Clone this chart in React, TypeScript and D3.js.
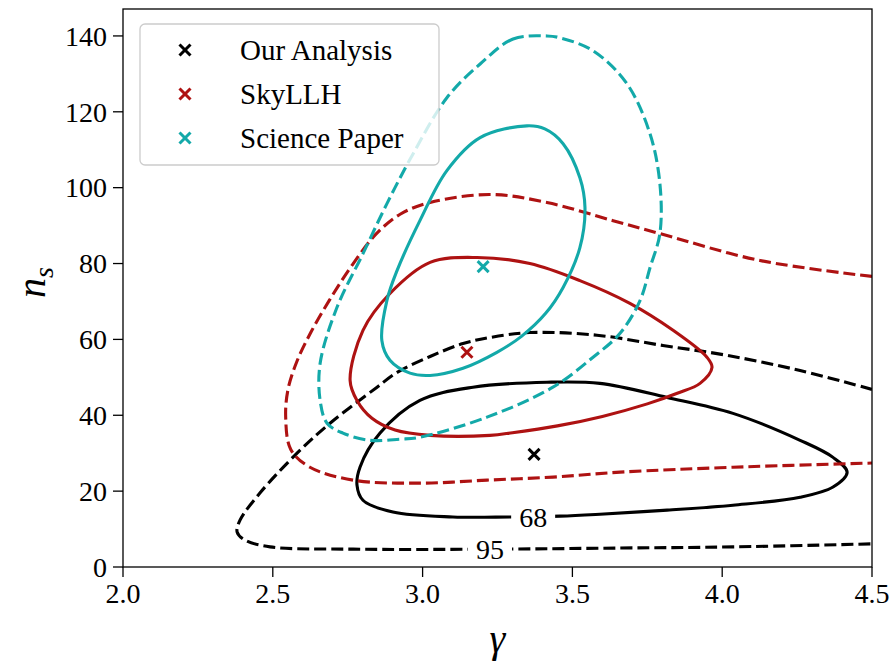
import * as d3 from "d3";

// gamma / n_s ticks
const xTicks = [2.0, 2.5, 3.0, 3.5, 4.0, 4.5];
const yTicks = [0, 20, 40, 60, 80, 100, 120, 140];

// contour outlines [gamma, n_s]
const ours68: [number, number][] = [
  [2.781, 21.6], [2.791, 26.3], [2.858, 35.3], [2.991, 43.9], [3.168, 47.4], [3.415, 48.7],
  [3.592, 48.4], [3.816, 44.7], [4.036, 40.5], [4.26, 33.4], [4.37, 28.9], [4.417, 25.0],
  [4.37, 21.1], [4.26, 18.4], [4.036, 16.3], [3.816, 15.0], [3.592, 13.9], [3.459, 13.4],
  [3.292, 13.2], [3.101, 13.2], [2.901, 14.5], [2.801, 17.6],
];
const ours95: [number, number][] = [
  [4.5, 46.8], [4.26, 51.8], [4.016, 55.8], [3.802, 58.4], [3.582, 61.1], [3.358, 61.8],
  [3.225, 60.5], [3.135, 58.9], [3.025, 55.5], [2.915, 51.3], [2.848, 47.4], [2.691, 37.9],
  [2.581, 30.0], [2.457, 19.5], [2.391, 12.4], [2.381, 9.2], [2.407, 7.1], [2.491, 5.3],
  [2.768, 4.7], [3.225, 4.7], [3.659, 5.0], [4.036, 5.3], [4.5, 6.1],
];
const skyllh68: [number, number][] = [
  [2.758, 49.2], [2.781, 43.9], [2.831, 39.2], [2.908, 36.1], [3.025, 34.7], [3.225, 34.7],
  [3.3, 35.4], [3.45, 37.2], [3.6, 39.7], [3.75, 43.0], [3.85, 45.8], [3.926, 48.4],
  [3.966, 52.6], [3.949, 55.3], [3.836, 62.4], [3.692, 69.5], [3.525, 75.5], [3.358, 80.0],
  [3.182, 81.6], [3.025, 80.3], [2.891, 72.1], [2.801, 62.4],
];
const skyllh95: [number, number][] = [
  [4.5, 76.6], [4.126, 80.8], [3.792, 87.9], [3.636, 91.3], [3.415, 96.1], [3.225, 98.2],
  [3.025, 96.1], [2.925, 93.0], [2.845, 87.8], [2.765, 79.6], [2.691, 70.6], [2.628, 62.0],
  [2.581, 54.3], [2.551, 46.9], [2.543, 39.5], [2.56, 31.0], [2.624, 26.3], [2.768, 22.9],
  [2.991, 22.1], [3.215, 22.9], [3.435, 23.7], [3.659, 25.0], [4.036, 26.3], [4.5, 27.4],
];
const paper68: [number, number][] = [
  [3.348, 116.3], [3.192, 113.2], [3.081, 104.5], [2.991, 91.3], [2.915, 78.2], [2.881, 70.3],
  [2.864, 59.7], [2.891, 54.5], [2.958, 51.1], [3.025, 50.5], [3.135, 52.4], [3.248, 56.6],
  [3.33, 60.8], [3.41, 66.8], [3.469, 73.7], [3.525, 84.2], [3.542, 94.7], [3.525, 102.6],
  [3.469, 111.6], [3.408, 115.5],
];
const paper95: [number, number][] = [
  [3.415, 140.0], [3.302, 139.2], [3.192, 132.6], [3.081, 123.7], [2.968, 108.9], [2.881, 95.8],
  [2.801, 82.6], [2.714, 68.4], [2.658, 53.7], [2.658, 43.9], [2.681, 37.9], [2.734, 35.3],
  [2.824, 33.4], [2.925, 33.7], [2.991, 34.2], [3.215, 39.5], [3.435, 47.4], [3.569, 55.3],
  [3.659, 61.6], [3.726, 70.3], [3.759, 78.9], [3.792, 87.9], [3.792, 101.1], [3.759, 114.2],
  [3.682, 127.4], [3.569, 136.1], [3.459, 139.5],
];

// best fit points
const bestFits = [
  { name: "Our Analysis", gamma: 3.372, ns: 29.7, color: "#000000" },
  { name: "SkyLLH", gamma: 3.148, ns: 56.6, color: "#ae1212" },
  { name: "Science Paper", gamma: 3.202, ns: 79.2, color: "#13a9a9" },
];

// contour level labels
const levelLabels = [
  { text: "68", gamma: 3.369, ns: 13.2 },
  { text: "95", gamma: 3.225, ns: 4.7 },
];

const W = 893;
const H = 668;
const margin = { top: 9, right: 21, bottom: 101, left: 123 };
const font = '"Liberation Serif", "DejaVu Serif", serif';

export default function App() {
  const x = d3.scaleLinear().domain([2.0, 4.5]).range([margin.left, W - margin.right]);
  const y = d3.scaleLinear().domain([0, 147.1]).range([H - margin.bottom, margin.top]);

  const closed = d3.line<[number, number]>()
    .x(d => x(d[0])).y(d => y(d[1]))
    .curve(d3.curveCatmullRomClosed.alpha(0.5));
  const open = d3.line<[number, number]>()
    .x(d => x(d[0])).y(d => y(d[1]))
    .curve(d3.curveCatmullRom.alpha(0.5));

  const dash = "12 5";
  const contours = [
    { d: closed(ours68), color: bestFits[0].color, dash: undefined },
    { d: open(ours95), color: bestFits[0].color, dash },
    { d: closed(skyllh68), color: bestFits[1].color, dash: undefined },
    { d: open(skyllh95), color: bestFits[1].color, dash },
    { d: closed(paper68), color: bestFits[2].color, dash: undefined },
    { d: closed(paper95), color: bestFits[2].color, dash },
  ];

  const cross = (cx: number, cy: number, s: number, color: string, key: string) => (
    <g key={key} stroke={color} strokeWidth={3}>
      <line x1={cx - s} y1={cy - s} x2={cx + s} y2={cy + s} />
      <line x1={cx - s} y1={cy + s} x2={cx + s} y2={cy - s} />
    </g>
  );

  return (
    <svg width={W} height={H} style={{ position: "absolute", left: 0, top: 0, background: "#fff", fontFamily: font }}>
      <defs>
        <clipPath id="plot-clip">
          <rect x={margin.left} y={margin.top} width={W - margin.left - margin.right}
            height={H - margin.top - margin.bottom} />
        </clipPath>
      </defs>

      <g clipPath="url(#plot-clip)">
        {contours.map((c, i) => (
          <path key={i} d={c.d ?? ""} fill="none" stroke={c.color} strokeWidth={3.1}
            strokeDasharray={c.dash} />
        ))}
        {levelLabels.map(l => (
          <g key={l.text}>
            <rect x={x(l.gamma) - 22} y={y(l.ns) - 10} width={44} height={20} fill="#fff" />
            <text x={x(l.gamma)} y={y(l.ns)} dy="0.35em" textAnchor="middle" fontSize={28}>
              {l.text}
            </text>
          </g>
        ))}
        {bestFits.map(b => cross(x(b.gamma), y(b.ns), 5.5, b.color, b.name))}
      </g>

      {/* frame */}
      <rect x={margin.left} y={margin.top} width={W - margin.left - margin.right}
        height={H - margin.top - margin.bottom} fill="none" stroke="#000" strokeWidth={1.3} />

      {/* x axis */}
      {xTicks.map(t => (
        <g key={t} transform={`translate(${x(t)},${H - margin.bottom})`}>
          <line y2={10} stroke="#000" strokeWidth={1.3} />
          <text y={36} textAnchor="middle" fontSize={28}>{t.toFixed(1)}</text>
        </g>
      ))}
      <text x={(margin.left + W - margin.right) / 2} y={652} textAnchor="middle" fontSize={40}
        fontStyle="italic">γ</text>

      {/* y axis */}
      {yTicks.map(t => (
        <g key={t} transform={`translate(${margin.left},${y(t)})`}>
          <line x2={-10} stroke="#000" strokeWidth={1.3} />
          <text x={-16} dy="0.35em" textAnchor="end" fontSize={28}>{t}</text>
        </g>
      ))}
      <text transform={`translate(45,${y(75)}) rotate(-90)`} textAnchor="middle" fontSize={40}
        fontStyle="italic">
        n<tspan fontSize={28} dy={8}>s</tspan>
      </text>

      {/* legend */}
      <g>
        <rect x={140} y={24} width={299} height={141} rx={5} fill="#fff" fillOpacity={0.8}
          stroke="#cccccc" strokeWidth={1.3} />
        {bestFits.map((b, i) => (
          <g key={b.name} transform={`translate(0,${50 + i * 44})`}>
            {cross(185, 0, 5.5, b.color, b.name)}
            <text x={240} dy="0.35em" fontSize={29}>{b.name}</text>
          </g>
        ))}
      </g>
    </svg>
  );
}
